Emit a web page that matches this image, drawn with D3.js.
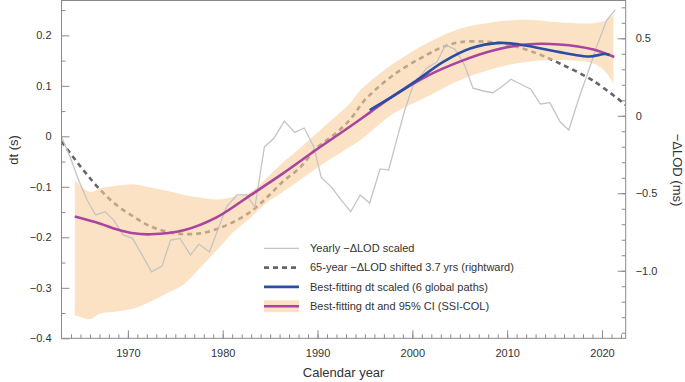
<!DOCTYPE html>
<html>
<head>
<meta charset="utf-8">
<script src="https://cdn.jsdelivr.net/npm/d3@7"></script>
<style>
  body { margin: 0; background: #fff; }
  text { font-family: "Liberation Sans", Arial, sans-serif; fill: #333; }
</style>
</head>
<body>
<svg id="chart"></svg>
<script>
const svgWidth = 685, svgHeight = 382;

// yearly -dLOD (ms, right axis)
const yearlyYears = [1963.0, 1963.9, 1964.8, 1965.7, 1966.6, 1967.6, 1968.5, 1969.5, 1970.5, 1971.5,
  1972.5, 1973.6, 1974.5, 1975.5, 1976.6, 1977.5, 1978.6, 1980.4, 1981.5, 1982.5,
  1983.4, 1984.4, 1985.4, 1986.5, 1987.6, 1988.6, 1989.6, 1990.4, 1991.5, 1992.5,
  1993.5, 1994.5, 1995.5, 1996.6, 1997.5, 1998.3, 1999.2, 2000.1, 2001.5, 2002.6,
  2003.5, 2004.5, 2005.5, 2006.4, 2007.5, 2008.5, 2009.4, 2010.4, 2011.4, 2012.5,
  2013.5, 2014.5, 2015.6, 2016.5, 2017.5, 2018.5, 2019.5, 2020.5, 2021.4];
const yearlyLod = [-0.135, -0.264, -0.414, -0.544, -0.640, -0.619, -0.673, -0.769, -0.791, -0.899,
  -1.007, -0.970, -0.802, -0.791, -0.899, -0.828, -0.879, -0.587, -0.511, -0.511,
  -0.589, -0.201, -0.145, -0.034, -0.107, -0.079, -0.199, -0.400, -0.462, -0.544,
  -0.619, -0.511, -0.563, -0.343, -0.350, -0.167, 0.037, 0.199, 0.307, 0.349,
  0.457, 0.429, 0.328, 0.178, 0.160, 0.149, 0.186, 0.236, 0.205, 0.171,
  0.076, 0.085, -0.040, -0.092, 0.102, 0.276, 0.457, 0.618, 0.683];

// 65-year -dLOD shifted (ms, right axis)
const smoothYears = [1963.0, 1965.3, 1967.1, 1968.8, 1970.6, 1972.3, 1974.1, 1975.9, 1977.6, 1979.4,
  1981.1, 1982.9, 1984.6, 1986.3, 1988.2, 1989.9, 1991.7, 1993.4, 1995.0, 1998.0,
  2001.5, 2003.3, 2005.0, 2007.8, 2010.3, 2013.1, 2015.5, 2019.1, 2022.5];
const smoothLod = [-0.167, -0.350, -0.479, -0.576, -0.651, -0.711, -0.748, -0.763, -0.759, -0.731,
  -0.686, -0.621, -0.531, -0.427, -0.331, -0.208, -0.124, -0.027, 0.102, 0.263,
  0.393, 0.446, 0.475, 0.478, 0.457, 0.403, 0.339, 0.225, 0.070];

// SSI-COL best fit and 95% CI (s, left axis)
const bandYears = [1964.4, 1966.0, 1967.1, 1968.8, 1970.6, 1972.3, 1974.1, 1975.9, 1977.6, 1979.4,
  1981.1, 1982.9, 1984.6, 1986.3, 1988.1, 1989.9, 1991.7, 1993.4, 1994.5, 1998.0,
  2001.5, 2005.0, 2008.5, 2012.0, 2015.5, 2019.1, 2020.4, 2021.2];
const bandUpper = [-0.087, -0.110, -0.103, -0.098, -0.095, -0.101, -0.108, -0.116, -0.121, -0.125,
  -0.120, -0.111, -0.083, -0.053, -0.024, 0.006, 0.036, 0.065, 0.091, 0.144,
  0.184, 0.213, 0.226, 0.231, 0.226, 0.224, 0.230, 0.241];
const bandLower = [-0.354, -0.362, -0.351, -0.347, -0.341, -0.328, -0.311, -0.293, -0.261, -0.225,
  -0.190, -0.162, -0.132, -0.111, -0.087, -0.063, -0.041, -0.021, -0.008, 0.045,
  0.078, 0.111, 0.134, 0.147, 0.151, 0.144, 0.127, 0.104];

const fitYears = [1964.4, 1967.1, 1968.8, 1970.6, 1972.4, 1975.9, 1979.4, 1982.9, 1986.4, 1989.9,
  1993.4, 1995.5, 1998.0, 2001.5, 2005.0, 2008.5, 2012.0, 2015.5, 2019.1, 2021.3];
const fitDt = [-0.159, -0.173, -0.184, -0.192, -0.194, -0.186, -0.160, -0.117, -0.073, -0.026,
  0.019, 0.047, 0.080, 0.119, 0.148, 0.170, 0.182, 0.182, 0.172, 0.157];

// 6 global paths (s, left axis)
const globalYears = [1995.5, 1998.0, 2000.4, 2003.3, 2006.1, 2009.2, 2011.3, 2014.1, 2016.9, 2018.7, 2020.3, 2020.8];
const globalDt = [0.052, 0.080, 0.110, 0.148, 0.174, 0.185, 0.182, 0.172, 0.162, 0.158, 0.163, 0.161];

const xTicks = [1970, 1980, 1990, 2000, 2010, 2020];
const leftTicks = [-0.4, -0.3, -0.2, -0.1, 0, 0.1, 0.2];
const rightTicks = [-1.0, -0.5, 0, 0.5];

const legendLabels = [
  "Yearly \u2212\u0394LOD scaled",
  "65-year \u2212\u0394LOD shifted 3.7 yrs (rightward)",
  "Best-fitting dt scaled (6 global paths)",
  "Best-fitting dt and 95% CI (SSI-COL)"
];

const plotL = 61.5, plotR = 625.7, plotT = 0.5, plotB = 338.3;

const svg = d3.select("#chart")
    .attr("width", svgWidth)
    .attr("height", svgHeight);

const x = d3.scaleLinear().domain([1963, 2022.5]).range([plotL, plotR]);
const yL = d3.scaleLinear().domain([-0.4, 0.269]).range([plotB, plotT]);
const yR = d3.scaleLinear().domain([-1.436, 0.744]).range([plotB, plotT]);

svg.append("clipPath").attr("id", "plot")
  .append("rect")
    .attr("x", plotL).attr("y", plotT)
    .attr("width", plotR - plotL).attr("height", plotB - plotT);

const g = svg.append("g").attr("clip-path", "url(#plot)");

const axisGrey = "#8a8a8a";
const bandFill = "#facf9e", bandOpacity = 0.6;
const fmt = d => d === 0 ? "0" : d3.format(".1f")(d).replace("-", "\u2212");
const smooth = d3.curveCatmullRom.alpha(0.5);

// dashed 65-year line (under the band)
g.append("path")
    .datum(smoothYears.map((d, i) => [d, smoothLod[i]]))
    .attr("d", d3.line().x(d => x(d[0])).y(d => yR(d[1])).curve(smooth))
    .attr("fill", "none")
    .attr("stroke", "#666")
    .attr("stroke-width", 2.6)
    .attr("stroke-dasharray", "5,4");

// 95% CI band
g.append("path")
    .datum(bandYears.map((d, i) => [d, bandLower[i], bandUpper[i]]))
    .attr("d", d3.area().x(d => x(d[0])).y0(d => yL(d[1])).y1(d => yL(d[2])).curve(smooth))
    .attr("fill", bandFill)
    .attr("opacity", bandOpacity);

// yearly line
g.append("path")
    .datum(yearlyYears.map((d, i) => [d, yearlyLod[i]]))
    .attr("d", d3.line().x(d => x(d[0])).y(d => yR(d[1])))
    .attr("fill", "none")
    .attr("stroke", "#c4c4c4")
    .attr("stroke-width", 1.3);

// best-fitting dt
g.append("path")
    .datum(fitYears.map((d, i) => [d, fitDt[i]]))
    .attr("d", d3.line().x(d => x(d[0])).y(d => yL(d[1])).curve(smooth))
    .attr("fill", "none")
    .attr("stroke", "#a9449f")
    .attr("stroke-width", 2.6);

g.append("path")
    .datum(globalYears.map((d, i) => [d, globalDt[i]]))
    .attr("d", d3.line().x(d => x(d[0])).y(d => yL(d[1])).curve(smooth))
    .attr("fill", "none")
    .attr("stroke", "#2a4ea6")
    .attr("stroke-width", 2.6);

// frame
svg.append("rect")
    .attr("x", plotL).attr("y", plotT)
    .attr("width", plotR - plotL).attr("height", plotB - plotT)
    .attr("fill", "none")
    .attr("stroke", axisGrey);

function styleAxis(sel) {
  sel.select(".domain").remove();
  sel.selectAll("line").attr("stroke", axisGrey);
  sel.selectAll("text").attr("font-size", 11).attr("fill", "#333")
     .attr("font-family", "'Liberation Sans', Arial, sans-serif");
}

// bottom axis
svg.append("g")
    .attr("transform", `translate(0,${plotB})`)
    .call(d3.axisBottom(x).tickValues(d3.range(1964, 2023)).tickSize(-4).tickFormat(""))
    .call(styleAxis);
svg.append("g")
    .attr("transform", `translate(0,${plotB})`)
    .call(d3.axisBottom(x).tickValues(xTicks).tickSize(-8).tickPadding(11).tickFormat(d3.format("d")))
    .call(styleAxis);

// left axis
svg.append("g")
    .attr("transform", `translate(${plotL},0)`)
    .call(d3.axisLeft(yL).tickValues(d3.range(-0.35, 0.27, 0.1)).tickSize(-4).tickFormat(""))
    .call(styleAxis);
svg.append("g")
    .attr("transform", `translate(${plotL},0)`)
    .call(d3.axisLeft(yL).tickValues(leftTicks).tickSize(-8).tickPadding(10).tickFormat(fmt))
    .call(styleAxis);

// right axis
svg.append("g")
    .attr("transform", `translate(${plotR},0)`)
    .call(d3.axisRight(yR).tickValues(d3.range(-1.4, 0.75, 0.1)).tickSize(-4).tickFormat(""))
    .call(styleAxis);
svg.append("g")
    .attr("transform", `translate(${plotR},0)`)
    .call(d3.axisRight(yR).tickValues(rightTicks).tickSize(-8).tickPadding(10).tickFormat(fmt))
    .call(styleAxis);

// axis titles
svg.append("text")
    .text("dt (s)")
    .attr("transform", `translate(18,150) rotate(-90)`)
    .attr("text-anchor", "middle")
    .attr("font-size", 13);

svg.append("text")
    .text("\u2212\u0394LOD (ms)")
    .attr("transform", `translate(673,170) rotate(90)`)
    .attr("text-anchor", "middle")
    .attr("font-size", 13);

svg.append("text")
    .text("Calendar year")
    .attr("x", (plotL + plotR) / 2)
    .attr("y", 377)
    .attr("text-anchor", "middle")
    .attr("font-size", 13);

// legend
const lgX0 = 264, lgX1 = 299, lgText = 310;
const rowY = i => 248.3 + i * 19.3;
const legend = svg.append("g");

legend.append("line")
    .attr("x1", lgX0).attr("x2", lgX1).attr("y1", rowY(0)).attr("y2", rowY(0))
    .attr("stroke", "#c4c4c4").attr("stroke-width", 1.3);
legend.append("line")
    .attr("x1", lgX0).attr("x2", lgX1).attr("y1", rowY(1)).attr("y2", rowY(1))
    .attr("stroke", "#666").attr("stroke-width", 2.6).attr("stroke-dasharray", "5,4");
legend.append("line")
    .attr("x1", lgX0).attr("x2", lgX1).attr("y1", rowY(2)).attr("y2", rowY(2))
    .attr("stroke", "#2a4ea6").attr("stroke-width", 2.6);
legend.append("rect")
    .attr("x", lgX0).attr("y", rowY(3) - 6).attr("width", lgX1 - lgX0).attr("height", 12)
    .attr("fill", bandFill).attr("opacity", bandOpacity);
legend.append("line")
    .attr("x1", lgX0).attr("x2", lgX1).attr("y1", rowY(3)).attr("y2", rowY(3))
    .attr("stroke", "#a9449f").attr("stroke-width", 2.6);

legend.selectAll(".lg")
    .data(legendLabels)
    .enter()
    .append("text")
    .attr("class", "lg")
    .text(d => d)
    .attr("x", lgText)
    .attr("y", (d, i) => rowY(i))
    .attr("dy", "0.35em")
    .attr("font-size", 11);
</script>
</body>
</html>
